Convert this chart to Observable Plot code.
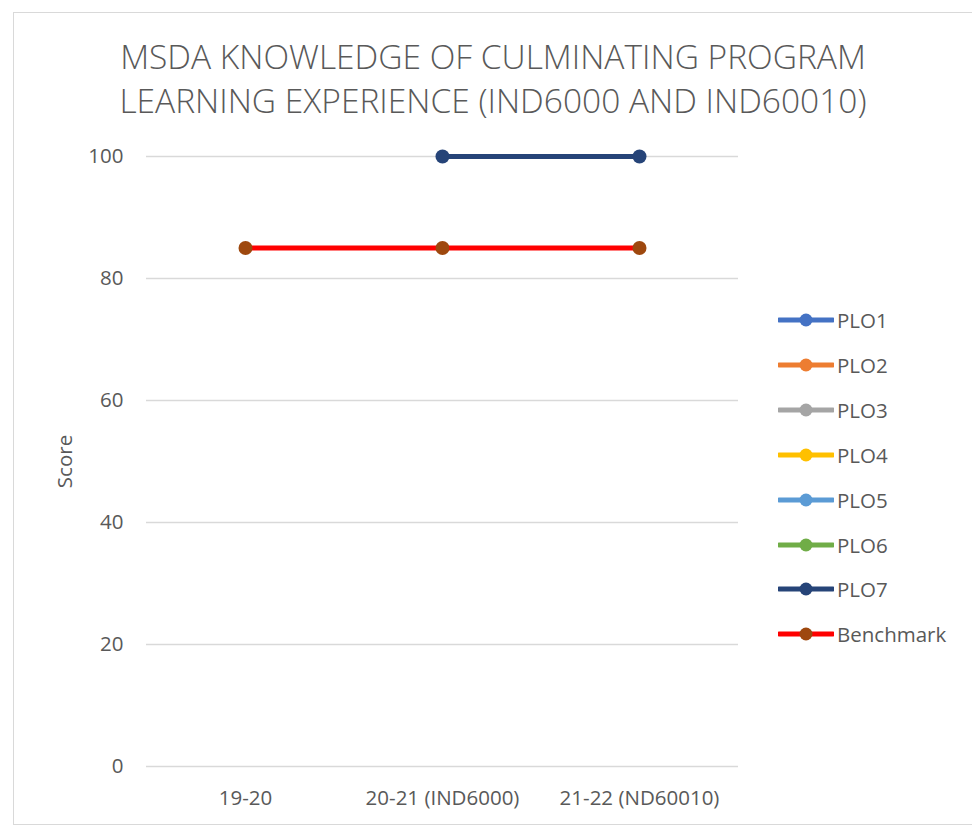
<!DOCTYPE html>
<html>
<head>
<meta charset="utf-8">
<script src="https://cdn.jsdelivr.net/npm/d3@7"></script>
<script src="https://cdn.jsdelivr.net/npm/@observablehq/plot@0.6"></script>
<style>
  html, body { margin: 0; padding: 0; background: #fff; overflow: hidden; }
  #wrap { position: relative; width: 972px; height: 828px; overflow: hidden; font-family: "Open Sans", sans-serif; }
  #frame { position: absolute; left: 13px; top: 12px; width: 980px; height: 813px; border: 1.5px solid #d9d9d9; border-right: none; box-sizing: border-box; }
  #chart { position: absolute; left: 0; top: 0; }
  #title { position: absolute; left: 0; width: 986px; top: 34px; text-align: center; color: #595959; font-size: 33.5px; font-weight: 300; line-height: 44px; }
  #legend { position: absolute; left: 778px; top: 0; }
  .item { position: absolute; left: 0; display: flex; align-items: center; height: 26px; white-space: nowrap; color: #595959; font-size: 20.5px; }
  .item svg { display: block; margin-right: 3px; }
</style>
</head>
<body>
<div id="wrap">
  <div id="frame"></div>
  <div id="chart"></div>
  <div id="title">MSDA KNOWLEDGE OF CULMINATING PROGRAM<br>LEARNING EXPERIENCE (IND6000 AND IND60010)</div>
  <div id="legend"></div>
</div>
<script>
const periods = ["19-20", "20-21 (IND6000)", "21-22 (ND60010)"];
const seriesNames = ["PLO1", "PLO2", "PLO3", "PLO4", "PLO5", "PLO6", "PLO7", "Benchmark"];
const PLO1 = [null, null, null];
const PLO2 = [null, null, null];
const PLO3 = [null, null, null];
const PLO4 = [null, null, null];
const PLO5 = [null, null, null];
const PLO6 = [null, null, null];
const PLO7 = [null, 100, 100];
const Benchmark = [85, 85, 85];
const yTicks = [0, 20, 40, 60, 80, 100];

const lineColors = ["#4472C4", "#ED7D31", "#A5A5A5", "#FFC000", "#5B9BD5", "#70AD47", "#264478", "#FF0000"];
const markerColors = ["#4472C4", "#ED7D31", "#A5A5A5", "#FFC000", "#5B9BD5", "#70AD47", "#264478", "#9E480E"];

const seriesValues = [PLO1, PLO2, PLO3, PLO4, PLO5, PLO6, PLO7, Benchmark];
const rows = [];
seriesNames.forEach((s, si) => {
  seriesValues[si].forEach((v, i) => {
    if (v != null) rows.push({series: s, period: periods[i], value: v});
  });
});

const W = 972, H = 828;
const marks = [
  Plot.gridY(yTicks, {stroke: "#d9d9d9", strokeOpacity: 1, strokeWidth: 1.3}),
  Plot.axisY(yTicks, {tickSize: 0, tickPadding: 23, fontSize: 20.5, label: null, fill: "#595959"}),
  Plot.axisX({tickSize: 0, tickPadding: 23.5, fontSize: 20.5, label: null, fill: "#595959"}),
  Plot.text(["Score"], {frameAnchor: "left", textAnchor: "middle", dx: -81, rotate: -90, fontSize: 20.5, fill: "#595959"})
];
seriesNames.forEach((s, si) => {
  const d = rows.filter(r => r.series === s);
  marks.push(Plot.line(d, {x: "period", y: "value", stroke: lineColors[si], strokeWidth: 5}));
  marks.push(Plot.dot(d, {x: "period", y: "value", r: 7, fill: markerColors[si], stroke: "none"}));
});

const chart = Plot.plot({
  width: W, height: H,
  marginLeft: 146, marginRight: 234, marginTop: 156, marginBottom: 62,
  style: {fontFamily: "'Open Sans', sans-serif", color: "#595959", background: "transparent"},
  x: {type: "point", domain: periods, padding: 0.5},
  y: {domain: [0, 100]},
  marks
});
document.getElementById("chart").appendChild(chart);

const legend = document.getElementById("legend");
seriesNames.forEach((s, i) => {
  const div = document.createElement("div");
  div.className = "item";
  div.style.top = (320 + i * 44.9 - 13) + "px";
  div.innerHTML = `<svg width="56" height="16"><line x1="1" x2="55" y1="8" y2="8" stroke="${lineColors[i]}" stroke-width="5" stroke-linecap="round"/><circle cx="28" cy="8" r="6.5" fill="${markerColors[i]}"/></svg><span>${s}</span>`;
  legend.appendChild(div);
});
</script>
</body>
</html>
